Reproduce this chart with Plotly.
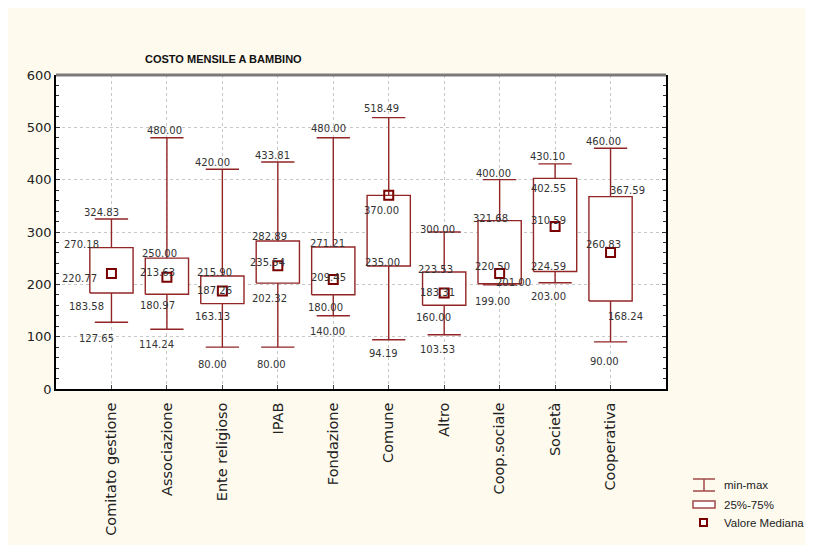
import plotly.graph_objects as go

categories = ["Comitato gestione", "Associazione", "Ente religioso", "IPAB", "Fondazione",
              "Comune", "Altro", "Coop.sociale", "Società", "Cooperativa"]
v_min = [127.65, 114.24, 80.00, 80.00, 140.00, 94.19, 103.53, 199.00, 203.00, 90.00]
v_q1 = [183.58, 180.97, 163.13, 202.32, 180.00, 235.00, 160.00, 201.00, 224.59, 168.24]
v_med = [220.77, 213.63, 187.26, 235.54, 209.45, 370.00, 183.31, 220.50, 310.59, 260.83]
v_q3 = [270.18, 250.00, 215.90, 282.89, 271.21, 370.00, 223.53, 321.68, 402.55, 367.59]
v_max = [324.83, 480.00, 420.00, 433.81, 480.00, 518.49, 300.00, 400.00, 430.10, 460.00]

# label offsets in px (dx, dy) for max, q3, median, q1, min
label_shift = [
    [(-10, 7), (-30, 3), (-32, -5), (-25, -14), (-15, -16)],
    [(-2, 7), (-7, 5), (-9, 5), (-9, -11), (-10, -15)],
    [(-10, 7), (-8, 4), (-8, 1), (-10, -13), (-10, -17)],
    [(-5, 6), (-8, 4), (-10, 3), (-8, -15), (-6, -17)],
    [(-5, 9), (-6, 4), (-5, 2), (-8, -13), (-6, -16)],
    [(-7, 9), (-7, -15), (0, 0), (-6, 4), (-5, -14)],
    [(-7, 3), (-9, 3), (-7, 1), (-11, -12), (-7, -15)],
    [(-6, 6), (-9, 2), (-7, 7), (14, 1), (-7, -17)],
    [(-8, 7), (-7, -10), (-7, 6), (-7, 5), (-7, -14)],
    [(-7, 7), (17, 6), (-7, 8), (15, -16), (-6, -20)],
]

RED = "#922626"
DARK = "#7a0000"
CREAM = "#fefaee"
BOX_HW = 0.39
CAP_HW = 0.30

pos = list(range(1, len(categories) + 1))

box_x, box_y = [], []
wh_x, wh_y = [], []
for i, p in enumerate(pos):
    box_x += [p - BOX_HW, p + BOX_HW, p + BOX_HW, p - BOX_HW, p - BOX_HW, None]
    box_y += [v_q1[i], v_q1[i], v_q3[i], v_q3[i], v_q1[i], None]
    wh_x += [p, p, None, p, p, None,
             p - CAP_HW, p + CAP_HW, None, p - CAP_HW, p + CAP_HW, None]
    wh_y += [v_q3[i], v_max[i], None, v_q1[i], v_min[i], None,
             v_max[i], v_max[i], None, v_min[i], v_min[i], None]

fig = go.Figure()
fig.add_trace(go.Scatter(x=wh_x, y=wh_y, mode="lines", line=dict(color=RED, width=1.4),
                         hoverinfo="skip", showlegend=False))
fig.add_trace(go.Scatter(x=box_x, y=box_y, mode="lines", line=dict(color=RED, width=1.4),
                         fill="toself", fillcolor="white", hoverinfo="skip", showlegend=False))
fig.add_trace(go.Scatter(x=pos, y=v_med, mode="markers",
                         marker=dict(symbol="square-open", size=9, color=DARK, line=dict(width=2, color=DARK)),
                         showlegend=False))

for i, p in enumerate(pos):
    vals = [v_max[i], v_q3[i], v_med[i], v_q1[i], v_min[i]]
    for k, v in enumerate(vals):
        if k == 2 and v_med[i] == v_q3[i]:
            continue
        dx, dy = label_shift[i][k]
        fig.add_annotation(x=p, y=v, text=f"{v:.2f}", showarrow=False,
                           xshift=dx, yshift=dy, xanchor="center", yanchor="middle",
                           font=dict(family="DejaVu Sans", size=10, color="#333333"))


def px(x):
    return (x - 56) / 610


def py(y):
    return (389 - y) / 314


# title
fig.add_annotation(xref="paper", yref="paper", x=px(223), y=py(59),
                   text="<b>COSTO MENSILE A BAMBINO</b>", showarrow=False,
                   xanchor="center", yanchor="middle",
                   font=dict(family="Liberation Sans", size=11, color="#111111"))

shapes = [
    # thick gray top border
    dict(type="line", xref="paper", yref="paper", x0=0, x1=1, y0=1, y1=1,
         line=dict(color="#7a7a7a", width=3)),
    # legend symbols
    dict(type="line", xref="paper", yref="paper", x0=px(693), x1=px(715), y0=py(479), y1=py(479),
         line=dict(color="#a04848", width=1.5)),
    dict(type="line", xref="paper", yref="paper", x0=px(693), x1=px(715), y0=py(491), y1=py(491),
         line=dict(color="#a04848", width=1.5)),
    dict(type="line", xref="paper", yref="paper", x0=px(704), x1=px(704), y0=py(479), y1=py(491),
         line=dict(color="#a04848", width=1.5)),
    dict(type="rect", xref="paper", yref="paper", x0=px(693), x1=px(715), y0=py(508), y1=py(501),
         fillcolor="white", line=dict(color="#a04848", width=1.5)),
    dict(type="rect", xref="paper", yref="paper", x0=px(700), x1=px(707), y0=py(526), y1=py(519),
         fillcolor="white", line=dict(color=DARK, width=2)),
]
fig.update_layout(shapes=shapes)

for txt, yy in [("min-max", 485), ("25%-75%", 505), ("Valore Mediana", 523)]:
    fig.add_annotation(xref="paper", yref="paper", x=px(722), y=py(yy), text=txt,
                       showarrow=False, xanchor="left", yanchor="middle",
                       font=dict(family="Liberation Sans", size=11.5, color="#222222"))

fig.update_xaxes(range=[0, len(categories) + 1], tickvals=pos, ticktext=categories,
                 tickangle=-90, ticks="inside", ticklen=4, tickcolor="#444444",
                 ticklabelstandoff=6,
                 showgrid=True, gridcolor="#c8c8c8", griddash="dot", gridwidth=1,
                 showline=True, linecolor="black", linewidth=1.5, mirror=False,
                 zeroline=False, tickfont=dict(family="DejaVu Sans", size=14.5, color="#222222"))
fig.update_yaxes(range=[0, 600], dtick=100, ticks="inside", ticklen=4, tickcolor="#333333",
                 minor=dict(dtick=20, ticks="inside", ticklen=3, tickcolor="#333333", showgrid=False),
                 showgrid=True, gridcolor="#c8c8c8", griddash="dot", gridwidth=1,
                 showline=True, linecolor="black", linewidth=1.5, mirror="ticks",
                 zeroline=False, tickfont=dict(family="DejaVu Sans", size=13, color="#222222"))

fig.update_layout(
    width=813, height=545,
    margin=dict(l=48, r=155, t=67, b=164),
    paper_bgcolor=CREAM, plot_bgcolor="white",
    showlegend=False,
)
fig.write_html("out.html")
